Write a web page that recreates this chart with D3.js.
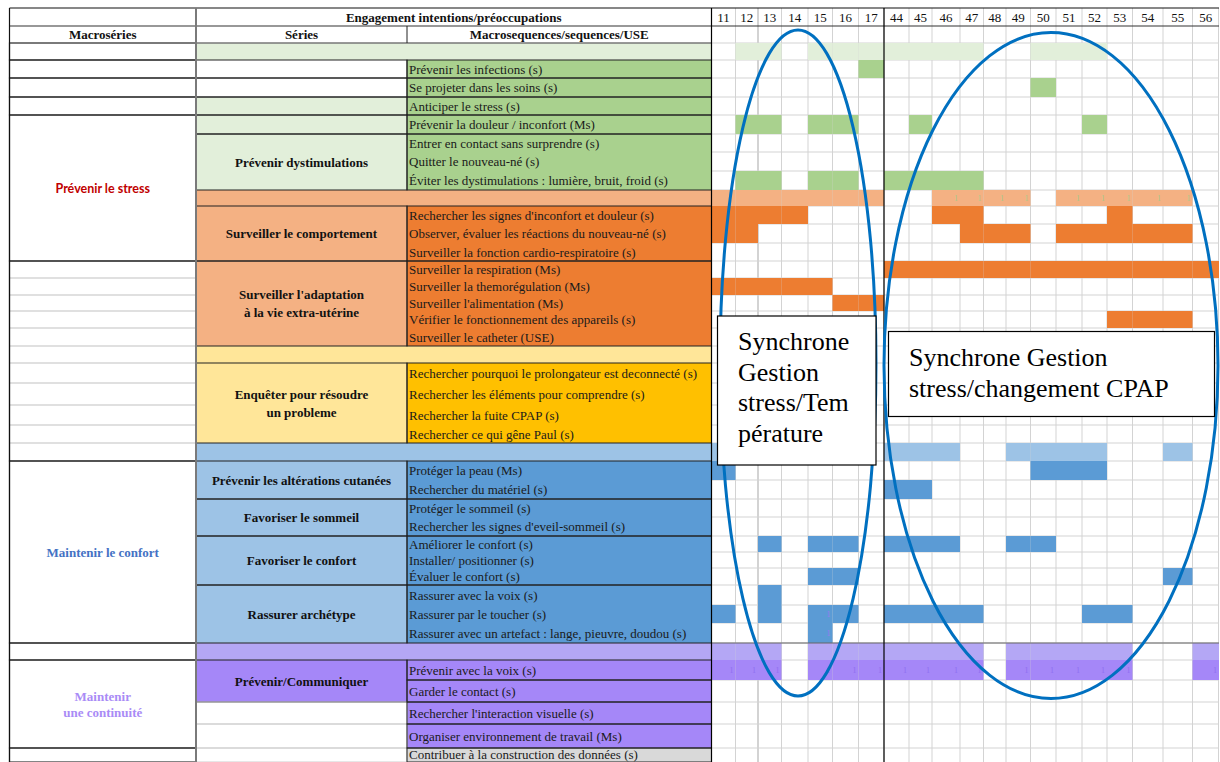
<!DOCTYPE html>
<html><head><meta charset="utf-8">
<script src="https://cdn.jsdelivr.net/npm/d3@7/dist/d3.min.js"></script>
<style>body{margin:0;background:#fff}svg{display:block}</style>
</head><body>
<svg id="c" width="1220" height="762"></svg>
<script>
// ================= DATA =================
const columns = ["11","12","13","14","15","16","17","44","45","46","47","48","49","50","51","52","53","54","55","56"];

const headerTitle = "Engagement intentions/préoccupations";
const headerCols = ["Macroséries", "Séries", "Macrosequences/sequences/USE"];

const sequenceLabels = [
  "",
  "Prévenir les infections (s)",
  "Se projeter dans les soins (s)",
  "Anticiper le stress (s)",
  "Prévenir la douleur / inconfort (Ms)",
  "Entrer en contact sans surprendre (s)",
  "Quitter le nouveau-né (s)",
  "Éviter les dystimulations : lumière, bruit, froid (s)",
  "",
  "Rechercher les signes d'inconfort et douleur (s)",
  "Observer, évaluer les réactions du nouveau-né (s)",
  "Surveiller la fonction cardio-respiratoire (s)",
  "Surveiller la respiration (Ms)",
  "Surveiller la themorégulation (Ms)",
  "Surveiller l'alimentation (Ms)",
  "Vérifier le fonctionnement des appareils (s)",
  "Surveiller le catheter (USE)",
  "",
  "Rechercher pourquoi le prolongateur est deconnecté (s)",
  "Rechercher les éléments pour comprendre (s)",
  "Rechercher la fuite CPAP (s)",
  "Rechercher ce qui gêne Paul (s)",
  "",
  "Protéger la peau (Ms)",
  "Rechercher du matériel (s)",
  "Protéger le sommeil (s)",
  "Rechercher les signes d'eveil-sommeil (s)",
  "Améliorer le confort (s)",
  "Installer/ positionner (s)",
  "Évaluer le confort (s)",
  "Rassurer avec la voix (s)",
  "Rassurer par le toucher (s)",
  "Rassurer avec un artefact : lange, pieuvre, doudou (s)",
  "",
  "Prévenir avec la voix (s)",
  "Garder le contact (s)",
  "Rechercher l'interaction visuelle (s)",
  "Organiser environnement de travail (Ms)",
  "Contribuer à la construction des données (s)"
];

const rowFamily = [
  "green","green","green","green","green","green","green","green",
  "orange","orange","orange","orange","orange","orange","orange","orange","orange",
  "yellow","yellow","yellow","yellow","yellow",
  "blue","blue","blue","blue","blue","blue","blue","blue","blue","blue","blue",
  "purple","purple","purple","purple","purple",
  "grey"
];

const bandRows = [0, 8, 17, 22, 33];

const seqGroups = [
  [1,1],[2,2],[3,3],[4,4],[5,7],[9,11],[12,16],[18,21],[23,24],[25,26],
  [27,29],[30,32],[34,34],[35,35],[36,36],[37,37],[38,38]
];

const seriesGroups = [
  {label:"", from:1, to:1, blank:true},
  {label:"", from:2, to:2, blank:true},
  {label:"", from:3, to:3},
  {label:"", from:4, to:4},
  {label:"Prévenir dystimulations", from:5, to:7},
  {label:"Surveiller le comportement", from:9, to:11},
  {label:"Surveiller l'adaptation\nà la vie extra-utérine", from:12, to:16},
  {label:"Enquêter pour résoudre\nun probleme", from:18, to:21},
  {label:"Prévenir les altérations cutanées", from:23, to:24},
  {label:"Favoriser le sommeil", from:25, to:26},
  {label:"Favoriser le confort", from:27, to:29},
  {label:"Rassurer archétype", from:30, to:32},
  {label:"Prévenir/Communiquer", from:34, to:35},
  {label:"", from:36, to:36, blank:true},
  {label:"", from:37, to:37, blank:true},
  {label:"", from:38, to:38, blank:true}
];

const macroGroups = [
  {label:"", from:0, to:0},
  {label:"", from:1, to:1},
  {label:"", from:2, to:2},
  {label:"", from:3, to:3},
  {label:"Prévenir le stress", from:4, to:11},
  {label:"", from:12, to:22, ruled:true},
  {label:"Maintenir le confort", from:23, to:32},
  {label:"", from:33, to:33},
  {label:"Maintenir\nune continuité", from:34, to:37},
  {label:"", from:38, to:38}
];

const activeCells = [
  ["12","13","15","16","17","44","45","46","47","50","51","52"],
  ["17"],
  ["50"],
  [],
  ["12","13","15","16","45","52"],
  [],
  [],
  ["12","13","15","16","44","45","46","47"],
  ["11","12","13","14","15","16","17","46","47","48","49","51","52","53","54","55"],
  ["11","12","13","14","46","47","53"],
  ["11","12","47","48","49","51","52","53","54","55"],
  [],
  ["44","45","46","47","48","49","50","51","52","53","54","55","56"],
  ["11","12","13","14","15"],
  ["16","17"],
  ["53","54","55"],
  [],
  [],
  [],
  [],
  [],
  [],
  ["11","44","45","46","49","50","51","52","55"],
  ["11","50","51","52"],
  ["44","45"],
  [],
  [],
  ["13","15","16","44","45","46","49","50"],
  [],
  ["15","16","55"],
  ["13"],
  ["11","13","15","16","44","45","46","47","52","53"],
  ["15"],
  ["11","12","13","15","16","17","44","45","46","47","49","50","51","52","53","56"],
  ["11","12","13","15","16","17","44","45","46","47","49","50","51","52","53","56"],
  [],
  [],
  [],
  []
];

// faint cell values ("1") visible inside some filled cells
const cellMarks = [
  [8,"46"],[8,"47"],[8,"48"],[8,"49"],[8,"51"],[8,"52"],[8,"53"],[8,"54"],[8,"55"],
  [31,"15"],[32,"15"],
  [34,"11"],[34,"12"],[34,"13"],[34,"15"],[34,"16"],[34,"17"],[34,"44"],[34,"45"],[34,"46"],[34,"47"],
  [34,"49"],[34,"50"],[34,"51"],[34,"52"],[34,"53"],[34,"56"]
];

const noteTexts = [
  ["Synchrone","Gestion","stress/Tem","pérature"],
  ["Synchrone Gestion","stress/changement CPAP"]
];

// ================= LAYOUT / STYLE =================
const colEdges = [711.5,735.5,758,781.5,808,832.5,858.5,884,909,932,960,983.5,1006,1030.5,1056,1082,1107,1132.5,1163,1192.5,1219];
const rowEdges = [43,60,78,97,115,134,152,171,190,206,224,243,261,278,295,311,328,346,363,383,405,425,443,461,480,499,517,536,552,568,585,605,623,643,660,680,702,724,748,762];
const TOP = 8, H1 = 26, H2 = 43, BOTTOM = 762;
const X0 = 9.5, XS = 196, XQ = 407, XG = 711.5, XR = 1219;

const palette = {
  green:  {band:"#e2efda", cell:"#a9d18e", series:"#e2efda", mark:"#8fc06c"},
  orange: {band:"#f4b183", cell:"#ed7d31", series:"#f4b183", mark:"#a9c98a"},
  yellow: {band:"#ffe699", cell:"#ffc000", series:"#ffe699", mark:"#e0b000"},
  blue:   {band:"#9dc3e6", cell:"#5b9bd5", series:"#9dc3e6", mark:"#9a7cf0"},
  purple: {band:"#b4a7f5", cell:"#a587f8", series:"#a587f8", mark:"#8f6ef0"},
  grey:   {band:"#d9d9d9", cell:"#d9d9d9", series:"#ffffff", mark:"#aaa"}
};
const macroStyle = {
  "Prévenir le stress": {color:"#c00000", font:"Lato, 'Liberation Sans', sans-serif", size:12.5},
  "Maintenir le confort": {color:"#4472c4", font:"'Liberation Serif', 'Times New Roman', serif", size:13},
  "Maintenir\nune continuité": {color:"#a98bf6", font:"'Liberation Serif', 'Times New Roman', serif", size:13}
};
const SERIF = "'Liberation Serif', 'Times New Roman', serif";
const ellipses = [
  {cx:798, cy:363, rx:78, ry:333},
  {cx:1051, cy:365.5, rx:167, ry:333}
];
const noteBoxes = [
  {x:717.5, y:316, w:158.5, h:149, tx:738, ty:350, lh:30.5},
  {x:888.5, y:331.5, w:326, h:85, tx:909, ty:366, lh:30.5}
];

// ================= SCALES =================
const xCol = d3.scaleLinear().domain(d3.range(colEdges.length)).range(colEdges);
const colIdx = d3.scaleOrdinal().domain(columns).range(d3.range(columns.length));
const yRow = d3.scaleLinear().domain(d3.range(rowEdges.length)).range(rowEdges);
const yMid = i => (yRow(i) + yRow(i+1)) / 2;

const svg = d3.select("#c");

// ---------- backgrounds in the text columns ----------
const gBg = svg.append("g");
gBg.selectAll("rect.band").data(bandRows).join("rect")
  .attr("x", XS).attr("y", d => yRow(d)).attr("width", XG - XS).attr("height", d => yRow(d+1) - yRow(d))
  .attr("fill", d => palette[rowFamily[d]].band);
gBg.selectAll("rect.ser").data(seriesGroups).join("rect")
  .attr("x", XS).attr("y", d => yRow(d.from)).attr("width", XQ - XS).attr("height", d => yRow(d.to+1) - yRow(d.from))
  .attr("fill", d => d.blank ? "#fff" : palette[rowFamily[d.from]].series);
gBg.selectAll("rect.seq").data(seqGroups).join("rect")
  .attr("x", XQ).attr("y", d => yRow(d[0])).attr("width", XG - XQ).attr("height", d => yRow(d[1]+1) - yRow(d[0]))
  .attr("fill", d => palette[rowFamily[d[0]]].cell);

// ---------- grid lines ----------
const gGrid = svg.append("g").attr("stroke", "#d3d3d3").attr("stroke-width", 1);
gGrid.selectAll("line.v").data(d3.range(1, columns.length)).join("line")
  .attr("x1", d => xCol(d)).attr("x2", d => xCol(d)).attr("y1", TOP).attr("y2", BOTTOM)
  .attr("stroke-width", d => columns[d] === "13" ? 2 : 1);
gGrid.selectAll("line.h").data(d3.range(0, rowEdges.length - 1)).join("line")
  .attr("x1", XG).attr("x2", XR).attr("y1", d => yRow(d)).attr("y2", d => yRow(d));
gGrid.append("line").attr("x1", XR - 0.5).attr("x2", XR - 0.5).attr("y1", TOP).attr("y2", BOTTOM);

// ---------- filled cells ----------
const cells = [];
activeCells.forEach((cols, r) => cols.forEach(c => cells.push({r, c})));
svg.append("g").selectAll("rect").data(cells).join("rect")
  .attr("x", d => xCol(colIdx(d.c)))
  .attr("y", d => yRow(d.r))
  .attr("width", d => xCol(colIdx(d.c) + 1) - xCol(colIdx(d.c)))
  .attr("height", d => yRow(d.r + 1) - yRow(d.r))
  .attr("fill", d => bandRows.includes(d.r) ? palette[rowFamily[d.r]].band : palette[rowFamily[d.r]].cell);

svg.append("g").selectAll("text").data(cellMarks).join("text")
  .attr("x", d => xCol(colIdx(d[1]) + 1) - 2)
  .attr("y", d => yMid(d[0]) + 3)
  .attr("text-anchor", "end").attr("font-family", SERIF).attr("font-size", 8)
  .attr("fill", d => palette[rowFamily[d[0]]].mark).text("1");

// ---------- structural borders ----------
const gB = svg.append("g").attr("fill", "none");
gB.selectAll("rect.sb").data(seriesGroups).join("rect")
  .attr("x", XS).attr("y", d => yRow(d.from)).attr("width", XQ - XS).attr("height", d => yRow(d.to+1) - yRow(d.from))
  .attr("stroke", d => d.blank && d.from > 30 ? "#cfcfcf" : "#222").attr("stroke-width", 1);
gB.selectAll("rect.qb").data(seqGroups).join("rect")
  .attr("x", XQ).attr("y", d => yRow(d[0])).attr("width", XG - XQ).attr("height", d => yRow(d[1]+1) - yRow(d[0]))
  .attr("stroke", "#222").attr("stroke-width", 1);
macroGroups.filter(g => g.ruled).forEach(g => {
  gB.selectAll(null).data(d3.range(g.from + 1, g.to + 1)).join("line")
    .attr("x1", X0).attr("x2", XS).attr("y1", d => yRow(d)).attr("y2", d => yRow(d))
    .attr("stroke", "#d6d6d6").attr("stroke-width", 1.5);
});
gB.selectAll("rect.mb").data(macroGroups).join("rect")
  .attr("x", X0).attr("y", d => yRow(d.from)).attr("width", XS - X0).attr("height", d => yRow(d.to+1) - yRow(d.from))
  .attr("stroke", "#333").attr("stroke-width", 1.2);
gB.append("line").attr("x1", X0).attr("x2", XR).attr("y1", TOP).attr("y2", TOP).attr("stroke", "#111").attr("stroke-width", 1.2);
gB.append("line").attr("x1", X0).attr("x2", XR).attr("y1", H1).attr("y2", H1).attr("stroke", "#333").attr("stroke-width", 1.2);
gB.append("line").attr("x1", X0).attr("x2", XG).attr("y1", H2).attr("y2", H2).attr("stroke", "#777").attr("stroke-width", 1.5);
gB.append("line").attr("x1", XG).attr("x2", XR).attr("y1", yRow(33)).attr("y2", yRow(33)).attr("stroke", "#666").attr("stroke-width", 1.2);
gB.append("line").attr("x1", X0).attr("x2", X0).attr("y1", TOP).attr("y2", BOTTOM).attr("stroke", "#111").attr("stroke-width", 1.2);
gB.append("line").attr("x1", XS).attr("x2", XS).attr("y1", TOP).attr("y2", BOTTOM).attr("stroke", "#7a7a7a").attr("stroke-width", 2);
gB.append("line").attr("x1", XQ).attr("x2", XQ).attr("y1", H1).attr("y2", H2).attr("stroke", "#222").attr("stroke-width", 1);
gB.append("line").attr("x1", XG).attr("x2", XG).attr("y1", TOP).attr("y2", BOTTOM).attr("stroke", "#000").attr("stroke-width", 1.2);
gB.append("line").attr("x1", xCol(colIdx("44"))).attr("x2", xCol(colIdx("44"))).attr("y1", TOP).attr("y2", BOTTOM).attr("stroke", "#000").attr("stroke-width", 1.2);

// ---------- header texts ----------
const gT = svg.append("g").attr("font-family", SERIF).attr("fill", "#111");
gT.append("text").attr("x", (XS + XG) / 2).attr("y", (TOP + H1) / 2 + 4.5)
  .attr("text-anchor", "middle").attr("font-weight", "bold").attr("font-size", 13).text(headerTitle);
const hx = [(X0 + XS) / 2, (XS + XQ) / 2, (XQ + XG) / 2];
gT.selectAll("text.hc").data(headerCols).join("text")
  .attr("x", (d, i) => hx[i]).attr("y", (H1 + H2) / 2 + 4.5)
  .attr("text-anchor", "middle").attr("font-weight", "bold").attr("font-size", 13).text(d => d);
gT.selectAll("text.col").data(columns).join("text")
  .attr("x", d => (xCol(colIdx(d)) + xCol(colIdx(d) + 1)) / 2).attr("y", (TOP + H1) / 2 + 4.5)
  .attr("text-anchor", "middle").attr("font-size", 13).text(d => d);

// sequence labels
gT.selectAll("text.seq").data(sequenceLabels.map((l, i) => ({l, i})).filter(d => d.l)).join("text")
  .attr("x", XQ + 2).attr("y", d => Math.min(yMid(d.i) + 4.5, BOTTOM - 3.5))
  .attr("font-size", 13).attr("fill", "#1a1a1a").text(d => d.l);

// multi-line centred labels
function centred(g, groups, cx, style) {
  g.selectAll(null).data(groups.filter(d => d.label)).join("text")
    .attr("text-anchor", "middle")
    .each(function(d) {
      const lines = d.label.split("\n");
      const st = style(d);
      const cy = (yRow(d.from) + yRow(d.to + 1)) / 2;
      const t = d3.select(this).attr("font-family", st.font).attr("font-size", st.size)
        .attr("font-weight", "bold").attr("fill", st.color);
      lines.forEach((ln, k) => {
        t.append("tspan").attr("x", cx).attr("y", cy + (k - (lines.length - 1) / 2) * st.lh + 4.5).text(ln);
      });
    });
}
centred(gT, seriesGroups, (XS + XQ) / 2, d => ({font: SERIF, size: 13, color: "#111", lh: 18}));
centred(gT, macroGroups, (X0 + XS) / 2, d => Object.assign({lh: 16}, macroStyle[d.label]));

// ---------- annotations ----------
svg.append("g").selectAll("ellipse").data(ellipses).join("ellipse")
  .attr("cx", d => d.cx).attr("cy", d => d.cy).attr("rx", d => d.rx).attr("ry", d => d.ry)
  .attr("fill", "none").attr("stroke", "#0070c0").attr("stroke-width", 3);

const gN = svg.append("g");
noteBoxes.forEach((b, i) => {
  gN.append("rect").attr("x", b.x).attr("y", b.y).attr("width", b.w).attr("height", b.h)
    .attr("fill", "#fff").attr("stroke", "#000").attr("stroke-width", 1.2);
  const t = gN.append("text").attr("font-family", SERIF).attr("font-size", 26).attr("fill", "#000");
  noteTexts[i].forEach((ln, k) => t.append("tspan").attr("x", b.tx).attr("y", b.ty + k * b.lh).text(ln));
});
</script>
</body></html>
